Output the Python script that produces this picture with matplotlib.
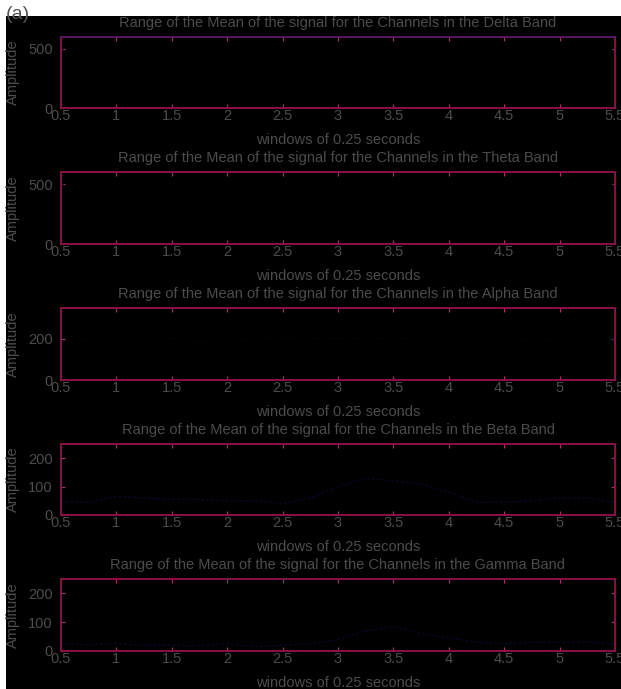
import numpy as np
import matplotlib
matplotlib.use("Agg")
import matplotlib.pyplot as plt
from matplotlib.patches import Rectangle

plt.rcParams['font.family'] = ['Liberation Sans', 'DejaVu Sans']

# windows (0.25 s steps) on the x axis
windows = [0.5, 0.75, 1.0, 1.25, 1.5, 1.75, 2.0, 2.25, 2.5, 2.75, 3.0,
           3.25, 3.5, 3.75, 4.0, 4.25, 4.5, 4.75, 5.0, 5.25, 5.5]

bands = ["Delta", "Theta", "Alpha", "Beta", "Gamma"]
ylims = [600, 600, 350, 250, 250]
yticks = [[0, 500], [0, 500], [0, 200], [0, 100, 200], [0, 100, 200]]

# faint mean curves
delta_mean = [500, 505, 500, 498, 502, 500, 499, 501, 500, 503, 500,
              498, 500, 502, 499, 500, 501, 500, 498, 500, 500]
theta_mean = [500, 498, 500, 502, 500, 499, 500, 501, 500, 500, 502,
              500, 499, 500, 501, 500, 500, 498, 500, 501, 500]
alpha_mean = [190, 195, 200, 198, 200, 175, 195, 200, 210, 200, 200,
              198, 200, 205, 180, 120, 190, 195, 200, 198, 200]
beta_mean = [45, 45, 65, 60, 55, 55, 50, 50, 40, 60, 100,
             130, 120, 110, 80, 45, 45, 50, 60, 60, 45]
gamma_mean = [25, 22, 25, 20, 20, 18, 25, 15, 20, 25, 40,
              70, 85, 60, 45, 30, 25, 30, 30, 30, 25]
means = [delta_mean, theta_mean, alpha_mean, beta_mean, gamma_mean]
line_colors = ["#06000a", "#06000a", "#08020e", "#08082a", "#08082a"]

# axes boxes in pixels (top, bottom) for a 621x689 canvas
W, H = 621, 689
rows = [(37, 108), (172, 244), (308, 380), (444, 515), (579, 651)]
left_px, right_px = 61, 615

txt = "#4c4c4c"
frame = "#8a1048"

fig = plt.figure(figsize=(W / 100, H / 100), dpi=100)
fig.patch.set_facecolor("white")
fig.patches.append(Rectangle((6 / W, 0), 1, (H - 16) / H, transform=fig.transFigure,
                             facecolor="black", edgecolor="none", zorder=-10))

for i, band in enumerate(bands):
    top, bot = rows[i]
    ax = fig.add_axes([left_px / W, 1 - bot / H, (right_px - left_px) / W, (bot - top) / H])
    ax.set_facecolor("black")
    ax.plot(windows, means[i], color=line_colors[i], lw=1.0, ls=(0, (2, 1.5)))
    ax.set_xlim(0.5, 5.5)
    ax.set_ylim(0, ylims[i])
    ax.set_xticks(np.arange(0.5, 5.51, 0.5))
    ax.set_xticklabels(["0.5", "1", "1.5", "2", "2.5", "3", "3.5", "4", "4.5", "5", "5.5"])
    ax.set_yticks(yticks[i])
    for s in ax.spines.values():
        s.set_color(frame)
        s.set_linewidth(1.4)
    ax.spines["top"].set_color("#5a1860" if i == 0 else frame)
    ax.tick_params(direction="in", length=3, color="#b03070", labelcolor=txt,
                   labelsize=10.5, top=True, right=True)
    ax.tick_params(axis="x", pad=1)
    ax.tick_params(axis="y", pad=6)
    ax.set_title("Range of the Mean of the signal for the Channels in the %s Band" % band,
                 color=txt, fontsize=10.5, pad=7)
    ax.set_xlabel("windows of 0.25 seconds", color=txt, fontsize=10.5, labelpad=7)
    ax.set_ylabel("Amplitude", color=txt, fontsize=10.5, labelpad=6)

fig.text(6 / W, 1 - 6 / H, "(a)", color="#555555", fontsize=14, va="top", ha="left")

fig.savefig("out.png", dpi=100, facecolor=fig.get_facecolor())
